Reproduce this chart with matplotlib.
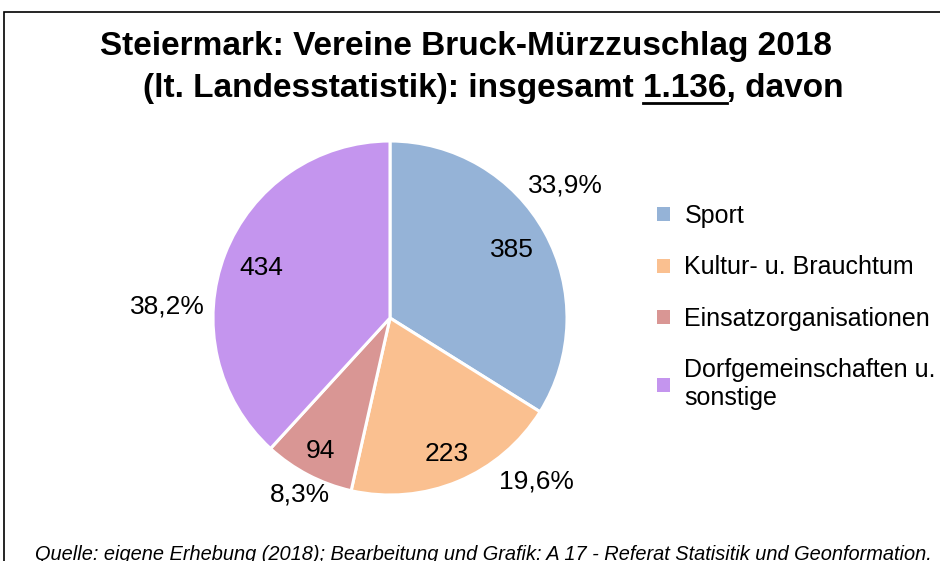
import matplotlib.pyplot as plt
import numpy as np
from matplotlib.patches import Patch, Rectangle
from matplotlib.lines import Line2D

plt.rcParams['font.family'] = ['Liberation Sans', 'DejaVu Sans']

# Daten
kategorien = ["Sport", "Kultur- u. Brauchtum", "Einsatzorganisationen",
              "Dorfgemeinschaften u.\nsonstige"]
anzahl = [385, 223, 94, 434]
farben = ["#95B3D7", "#FAC090", "#D99694", "#C495EE"]
gesamt = "1.136"

# Lage der Beschriftungen (Winkel in Grad, Abstand in Radien)
pct_pos = [(37, 1.24), (-48, 1.24), (-117, 1.12), (177, 1.26)]
zahl_abstand = [0.79, 0.83, 0.85, 0.78]

W, H = 940, 561
fig = plt.figure(figsize=(W / 100, H / 100), dpi=100)

# Rahmen
fig.patches.append(Rectangle((4 / W, -0.1), 1.2, (H - 12) / H + 0.1,
                             transform=fig.transFigure, fill=False,
                             edgecolor="black", linewidth=1.2))

# Kreisdiagramm
cx, cy, r = 390, 318, 177
ax = fig.add_axes([(cx - r) / W, (H - cy - r) / H, 2 * r / W, 2 * r / H])
wedges, texts, autotexts = ax.pie(
    anzahl, colors=farben, startangle=90, counterclock=False,
    wedgeprops=dict(edgecolor="white", linewidth=2.2),
    autopct=lambda p: "{:.0f}".format(p * sum(anzahl) / 100),
    pctdistance=0.8, textprops=dict(fontsize=19))
ax.set_xlim(-1, 1)
ax.set_ylim(-1, 1)
ax.set_aspect("equal")

for w, t, d in zip(wedges, autotexts, zahl_abstand):
    a = np.deg2rad((w.theta1 + w.theta2) / 2)
    t.set_position((d * np.cos(a), d * np.sin(a)))

for n, (ang, dist) in zip(anzahl, pct_pos):
    p = n / sum(anzahl) * 100
    a = np.deg2rad(ang)
    ax.text(dist * np.cos(a), dist * np.sin(a),
            "{:.1f}%".format(p).replace(".", ","),
            ha="center", va="center", fontsize=19, clip_on=False)

# Legende
handles = [Patch(facecolor=c) for c in farben]
fig.legend(handles, kategorien, loc="upper left",
           bbox_to_anchor=(647 / W, 1 - 194 / H), frameon=False,
           fontsize=18, handlelength=0.5, handleheight=0.5,
           handletextpad=0.6, labelspacing=1.1, borderaxespad=0)

# Titel
zeile1 = "Steiermark: Vereine Bruck-Mürzzuschlag 2018"
zeile2a = "(lt. Landesstatistik): insgesamt "
zeile2 = zeile2a + gesamt + ", davon"
tsize = 24
t1 = fig.text(100 / W, 1 - 47 / H, zeile1, fontsize=tsize, fontweight="bold",
              ha="left", va="center")
t2 = fig.text(143 / W, 1 - 88 / H, zeile2, fontsize=tsize, fontweight="bold",
              ha="left", va="center")

# Unterstreichung der Gesamtzahl
renderer = fig.canvas.get_renderer()
mess1 = fig.text(0, 0, zeile2a + gesamt, fontsize=tsize, fontweight="bold")
mess2 = fig.text(0, 0, gesamt, fontsize=tsize, fontweight="bold")
w_bis = mess1.get_window_extent(renderer).width
w_zahl = mess2.get_window_extent(renderer).width
mess1.remove()
mess2.remove()
x_end = 143 + w_bis
x_start = x_end - w_zahl
fig.lines.append(Line2D([x_start / W, x_end / W], [1 - 103 / H, 1 - 103 / H],
                        transform=fig.transFigure, color="black",
                        linewidth=2))

# Quelle (unten wie im Original angeschnitten)
fig.text(35 / W, 1 - 555 / H,
         "Quelle: eigene Erhebung (2018); Bearbeitung und Grafik: A 17 - "
         "Referat Statisitik und Geonformation.",
         fontsize=14.4, fontstyle="italic", ha="left", va="center")

fig.savefig("out.png", dpi=100)
